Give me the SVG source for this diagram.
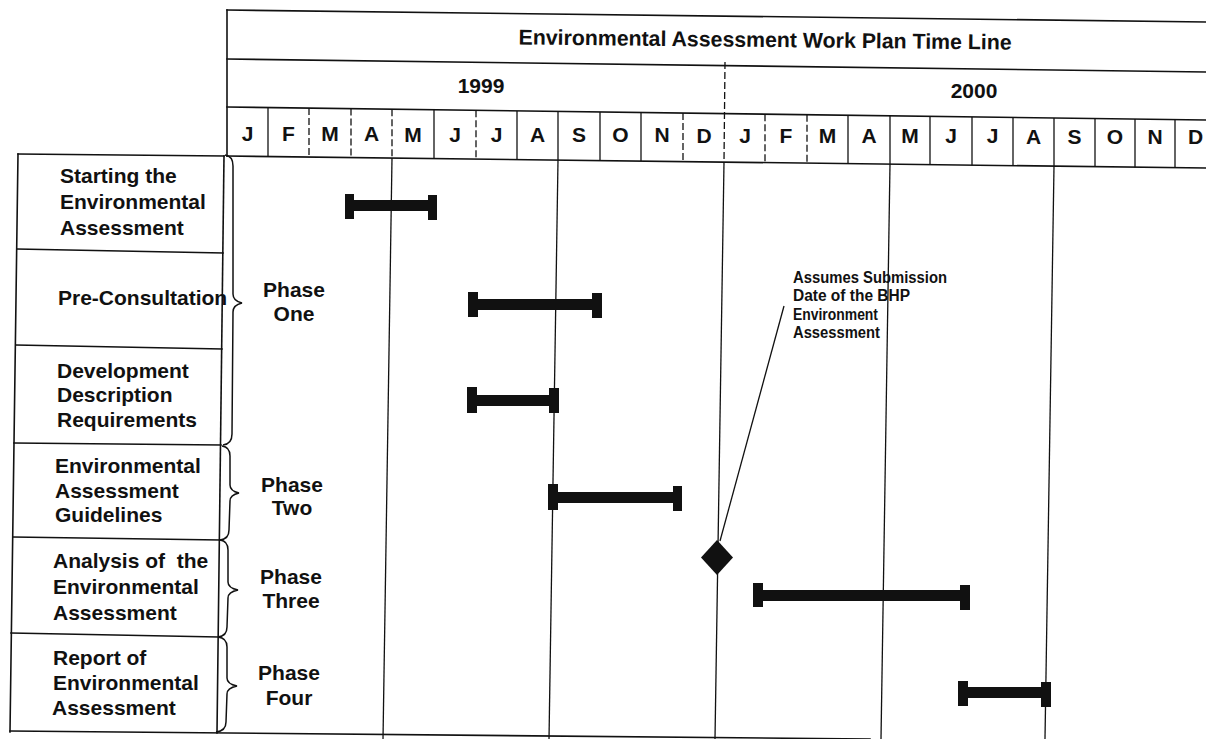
<svg xmlns="http://www.w3.org/2000/svg" width="1206" height="739" viewBox="0 0 1206 739">
<style>
  .ln { stroke:#111; stroke-width:1.6; fill:none; stroke-linecap:square; }
  .thin { stroke:#111; stroke-width:1.3; fill:none; }
  .dash { stroke:#111; stroke-width:1.3; fill:none; stroke-dasharray:7 3; }
  .brace { stroke:#111; stroke-width:1.5; fill:none; }
  .t { font-family:"Liberation Sans", Arial, sans-serif; font-weight:bold; fill:#111; }
  .lab { font-size:21px; }
  .mon { font-size:21px; text-anchor:middle; }
  .ph { font-size:21px; text-anchor:middle; }
  .note { font-size:16px; }
  .blk { fill:#111; }
</style>
<rect width="1206" height="739" fill="#fff"/>

<g id="header">
  <line class="ln" x1="227" y1="10" x2="1206" y2="22"/>
  <line class="ln" x1="227" y1="59" x2="1206" y2="72"/>
  <line class="ln" x1="227" y1="107" x2="1206" y2="120"/>
  <line class="ln" x1="227" y1="156" x2="1206" y2="168"/>
  <line class="ln" x1="227" y1="10" x2="227" y2="156"/>
  <text class="t" x="765" y="47" font-size="21.3" text-anchor="middle" transform="rotate(0.6 765 47)">Environmental Assessment Work Plan Time Line</text>
  <text class="t" x="481" y="93" font-size="21" text-anchor="middle">1999</text>
  <text class="t" x="974" y="98" font-size="21" text-anchor="middle">2000</text>
  <line class="dash" x1="725" y1="62" x2="724" y2="162"/>
  <g id="month-dividers">
    <line class="thin" x1="268" y1="107.5" x2="268" y2="156.5"/>
    <line class="dash" x1="309" y1="108" x2="309" y2="157"/>
    <line class="dash" x1="351" y1="108.6" x2="351" y2="157.5"/>
    <line class="dash" x1="392" y1="109.2" x2="392" y2="158"/>
    <line class="thin" x1="434" y1="109.8" x2="434" y2="158.5"/>
    <line class="dash" x1="476" y1="110.3" x2="476" y2="159"/>
    <line class="thin" x1="517" y1="110.9" x2="517" y2="159.6"/>
    <line class="thin" x1="558" y1="111.4" x2="558" y2="160"/>
    <line class="thin" x1="600" y1="112" x2="600" y2="160.6"/>
    <line class="thin" x1="641" y1="112.5" x2="641" y2="161"/>
    <line class="dash" x1="683" y1="113" x2="683" y2="161.6"/>
    <line class="dash" x1="765" y1="114.2" x2="765" y2="162.6"/>
    <line class="dash" x1="807" y1="114.7" x2="807" y2="163.1"/>
    <line class="thin" x1="848" y1="115.3" x2="848" y2="163.6"/>
    <line class="thin" x1="890" y1="115.8" x2="890" y2="164.2"/>
    <line class="thin" x1="930" y1="116.4" x2="930" y2="164.6"/>
    <line class="thin" x1="972" y1="116.9" x2="972" y2="165.2"/>
    <line class="thin" x1="1013" y1="117.5" x2="1013" y2="165.7"/>
    <line class="thin" x1="1054" y1="118" x2="1054" y2="166.2"/>
    <line class="thin" x1="1095" y1="118.5" x2="1095" y2="166.7"/>
    <line class="thin" x1="1135" y1="119" x2="1135" y2="167.2"/>
    <line class="thin" x1="1175" y1="119.6" x2="1175" y2="167.7"/>
  </g>
  <g id="months" class="t mon">
    <text x="247.5" y="141">J</text>
    <text x="288.5" y="141.2">F</text>
    <text x="330" y="141.3">M</text>
    <text x="371.5" y="141.4">A</text>
    <text x="413" y="141.6">M</text>
    <text x="455" y="141.7">J</text>
    <text x="496.5" y="141.8">J</text>
    <text x="537.5" y="142">A</text>
    <text x="579" y="142.1">S</text>
    <text x="620.5" y="142.2">O</text>
    <text x="662" y="142.3">N</text>
    <text x="704" y="142.5">D</text>
    <text x="745" y="142.6">J</text>
    <text x="786" y="142.7">F</text>
    <text x="827.5" y="142.8">M</text>
    <text x="869" y="143">A</text>
    <text x="910" y="143.1">M</text>
    <text x="951" y="143.2">J</text>
    <text x="992.5" y="143.3">J</text>
    <text x="1033.5" y="143.5">A</text>
    <text x="1074.5" y="143.6">S</text>
    <text x="1115" y="143.7">O</text>
    <text x="1155" y="143.8">N</text>
    <text x="1195.5" y="144">D</text>
  </g>
</g>

<g id="grid">
  <line class="thin" x1="392" y1="158" x2="383" y2="739"/>
  <line class="thin" x1="558" y1="160" x2="549" y2="739"/>
  <line class="thin" x1="724" y1="162" x2="715" y2="739"/>
  <line class="thin" x1="890" y1="164" x2="881" y2="739"/>
  <line class="thin" x1="1054" y1="166" x2="1045" y2="739"/>
</g>

<g id="task-table">
  <line class="ln" x1="18" y1="154" x2="224" y2="156"/>
  <line class="ln" x1="18" y1="154" x2="10" y2="732"/>
  <line class="ln" x1="224" y1="156" x2="217" y2="733"/>
  <line class="ln" x1="17" y1="249" x2="223" y2="253"/>
  <line class="ln" x1="16" y1="345" x2="222" y2="349"/>
  <line class="ln" x1="14" y1="443" x2="221" y2="445"/>
  <line class="ln" x1="13" y1="537" x2="220" y2="540"/>
  <line class="ln" x1="11" y1="633" x2="218" y2="637"/>
  <line class="ln" x1="10" y1="731" x2="870" y2="739"/>
</g>

<g id="task-1" class="t lab">
  <text x="60" y="183">Starting the</text>
  <text x="60" y="209">Environmental</text>
  <text x="60" y="235">Assessment</text>
</g>
<g id="task-2" class="t lab">
  <text x="58" y="305">Pre-Consultation</text>
</g>
<g id="task-3" class="t lab">
  <text x="57" y="378">Development</text>
  <text x="57" y="402">Description</text>
  <text x="57" y="427">Requirements</text>
</g>
<g id="task-4" class="t lab">
  <text x="55" y="473">Environmental</text>
  <text x="55" y="498">Assessment</text>
  <text x="55" y="522">Guidelines</text>
</g>
<g id="task-5" class="t lab">
  <text x="53" y="568" style="white-space:pre">Analysis of  the</text>
  <text x="53" y="594">Environmental</text>
  <text x="53" y="620">Assessment</text>
</g>
<g id="task-6" class="t lab">
  <text x="53" y="665">Report of</text>
  <text x="53" y="690">Environmental</text>
  <text x="52" y="715">Assessment</text>
</g>

<g id="phase-one">
  <path class="brace" d="M225,155 Q233,156 233,166 L233,294 Q233,301 242,303 Q233,305 233,312 L232,434 Q232,444 223,445"/>
  <text class="t ph" x="294" y="297">Phase</text>
  <text class="t ph" x="294" y="321">One</text>
</g>
<g id="phase-two">
  <path class="brace" d="M222,446 Q230,447 230,456 L230,485 Q230,491 239,493 Q230,495 230,501 L229,530 Q229,539 220,540"/>
  <text class="t ph" x="292" y="492">Phase</text>
  <text class="t ph" x="292" y="515">Two</text>
</g>
<g id="phase-three">
  <path class="brace" d="M220,540 Q228,541 228,550 L228,582 Q228,588 238,590 Q228,592 228,598 L227,627 Q227,636 218,637"/>
  <text class="t ph" x="291" y="584">Phase</text>
  <text class="t ph" x="291" y="608">Three</text>
</g>
<g id="phase-four">
  <path class="brace" d="M218,637 Q227,638 227,647 L227,678 Q227,684 237,686 Q227,688 227,694 L226,722 Q226,731 216,732"/>
  <text class="t ph" x="289" y="680">Phase</text>
  <text class="t ph" x="289" y="705">Four</text>
</g>

<g id="bars" class="blk">
  <g id="bar-1"><rect x="345" y="194" width="9" height="25"/><rect x="354" y="200" width="74" height="11"/><rect x="428" y="195" width="9" height="25"/></g>
  <g id="bar-2"><rect x="468" y="292" width="10" height="25"/><rect x="478" y="299" width="114" height="11"/><rect x="592" y="293" width="10" height="25"/></g>
  <g id="bar-3"><rect x="467" y="387" width="10" height="26"/><rect x="477" y="395" width="72" height="11"/><rect x="549" y="388" width="10" height="25"/></g>
  <g id="bar-4"><rect x="548" y="484" width="10" height="26"/><rect x="558" y="492" width="115" height="11"/><rect x="673" y="486" width="9" height="25"/></g>
  <g id="bar-5"><rect x="753" y="583" width="10" height="24"/><rect x="763" y="590" width="197" height="11"/><rect x="960" y="585" width="10" height="25"/></g>
  <g id="bar-6"><rect x="958" y="681" width="10" height="25"/><rect x="968" y="687" width="73" height="11"/><rect x="1041" y="682" width="10" height="25"/></g>
</g>

<g id="milestone">
  <polygon class="blk" points="717,540 733,557.5 717,575 701,557.5"/>
</g>

<g id="callout" class="t note">
  <text x="793" y="283" textLength="154" lengthAdjust="spacingAndGlyphs">Assumes Submission</text>
  <text x="793" y="301" textLength="117" lengthAdjust="spacingAndGlyphs">Date of the BHP</text>
  <text x="793" y="320" textLength="85" lengthAdjust="spacingAndGlyphs">Environment</text>
  <text x="793" y="338" textLength="87" lengthAdjust="spacingAndGlyphs">Assessment</text>
</g>

<g id="connectors">
  <line class="thin" x1="720" y1="541" x2="784" y2="306"/>
</g>
</svg>
